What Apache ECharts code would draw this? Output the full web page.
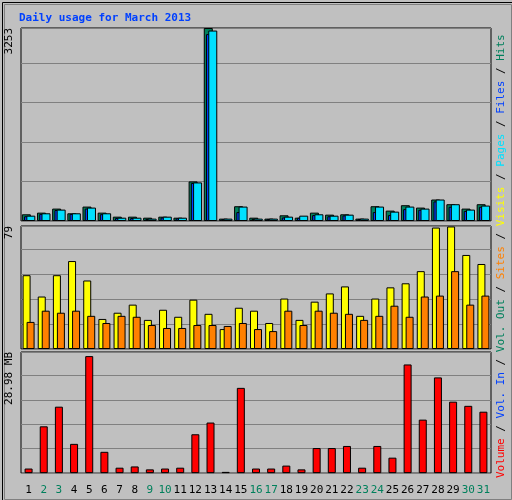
<!DOCTYPE html>
<html>
<head>
<script src="https://cdn.jsdelivr.net/npm/echarts@6/dist/echarts.min.js"></script>
<style>
  html, body { margin: 0; padding: 0; background: #c0c0c0; }
  #graph { width: 512px; height: 500px; }
</style>
</head>
<body>
<div id="graph"></div>
<script>
// data
const days = [];
for (let i = 1; i <= 31; i++) days.push(String(i));
const weekend = ['2', '3', '9', '10', '16', '17', '23', '24', '30', '31'];

const hits  = [113,141,209,130,243,141,73,73,56,73,56,667,3253,40,249,56,40,96,56,141,107,113,40,249,175,266,226,362,283,209,283];
const files = [80,120,185,120,210,115,50,50,35,60,45,640,3150,30,150,35,35,60,55,100,80,95,35,150,100,200,190,330,240,170,240];
const pages = [90,130,192,130,226,130,56,56,40,73,56,650,3210,40,243,40,40,73,90,113,90,107,40,243,158,243,209,362,283,192,260];

const visits = [47.4,33.7,47.4,56.5,44,19.3,23.3,28.5,18.7,25.2,20.7,31.7,22.6,12.8,26.5,24.6,16.7,32.4,18.7,30.4,35.7,40.2,21.3,32.4,39.6,42.2,50,78,78.7,60.4,54.6];
const sites  = [17.4,24.6,23.3,24.6,21.3,16.7,21.3,20.7,15.4,13.5,13.5,15.4,15.4,14.8,16.7,12.8,11.5,24.6,15.4,24.6,23.3,22.6,18.7,21.3,27.8,20.7,33.7,34.3,50,28.5,34.3];

const volume = [1.1,11.2,15.9,7.0,28.0,5.1,1.3,1.6,0.9,1.1,1.3,9.3,12.1,0.3,20.4,1.1,1.1,1.8,0.9,6.0,6.0,6.5,1.3,6.5,3.7,26.0,12.8,22.9,17.1,16.1,14.7];

const maxHits = 3253, maxVisits = 79, maxVol = 28.98;

const font = 'DejaVu Sans Mono';
const chart = echarts.init(document.getElementById('graph'));

const gridStyle = { show: true, backgroundColor: '#c0c0c0', borderColor: '#000', borderWidth: 1 };
const xBase = {
  type: 'category', data: days, boundaryGap: true,
  axisLine: { show: false }, axisTick: { show: false }, axisLabel: { show: false }
};
function yAxis(idx, max, interval) {
  return {
    gridIndex: idx, type: 'value', min: 0, max: max, interval: interval,
    axisLine: { show: false }, axisTick: { show: false }, axisLabel: { show: false },
    splitLine: { lineStyle: { color: '#808080', width: 1 } }
  };
}
const edge = { borderColor: '#000', borderWidth: 1 };

const option = {
  backgroundColor: '#c0c0c0',
  animation: false,
  textStyle: { fontFamily: font },
  grid: [
    Object.assign({ left: 21, right: 21, top: 28, height: 193 }, gridStyle),
    Object.assign({ left: 21, right: 21, top: 226, height: 123 }, gridStyle),
    Object.assign({ left: 21, right: 21, top: 352, height: 124 }, gridStyle)
  ],
  xAxis: [
    Object.assign({ gridIndex: 0 }, xBase),
    Object.assign({ gridIndex: 1 }, xBase),
    Object.assign({}, xBase, {
      gridIndex: 2,
      axisLabel: {
        show: true, interval: 0, margin: 7, fontFamily: font, fontSize: 11,
        formatter: v => weekend.includes(v) ? '{we|' + v + '}' : '{wd|' + v + '}',
        rich: { we: { color: '#00805c', fontFamily: font, fontSize: 11 }, wd: { color: '#000', fontFamily: font, fontSize: 11 } }
      }
    })
  ],
  yAxis: [yAxis(0, maxHits, 666), yAxis(1, maxVisits, 16), yAxis(2, maxVol, 5.85)],
  series: [
    { name: 'Hits', type: 'bar', xAxisIndex: 0, yAxisIndex: 0, data: hits, barWidth: 9, barGap: '-75%',
      itemStyle: Object.assign({ color: '#00805c' }, edge) },
    { name: 'Files', type: 'bar', xAxisIndex: 0, yAxisIndex: 0, data: files, barWidth: 9, barGap: '-75%',
      itemStyle: Object.assign({ color: '#0040ff' }, edge) },
    { name: 'Pages', type: 'bar', xAxisIndex: 0, yAxisIndex: 0, data: pages, barWidth: 9, barGap: '-75%',
      itemStyle: Object.assign({ color: '#00e0ff' }, edge) },
    { name: 'Visits', type: 'bar', xAxisIndex: 1, yAxisIndex: 1, data: visits, barWidth: 8, barGap: '-50%',
      itemStyle: Object.assign({ color: '#ffff00' }, edge) },
    { name: 'Sites', type: 'bar', xAxisIndex: 1, yAxisIndex: 1, data: sites, barWidth: 8, barGap: '-50%',
      itemStyle: Object.assign({ color: '#ff8000' }, edge) },
    { name: 'Volume', type: 'bar', xAxisIndex: 2, yAxisIndex: 2, data: volume, barWidth: 8,
      itemStyle: Object.assign({ color: '#ff0000' }, edge) }
  ],
  graphic: [
    { type: 'rect', left: 0, top: 0, shape: { width: 511, height: 499 }, silent: true,
      style: { fill: 'none', stroke: '#000', lineWidth: 1 } },
    { type: 'rect', left: 2, top: 2, shape: { width: 507, height: 495 }, silent: true,
      style: { fill: 'none', stroke: '#808080', lineWidth: 1 } },
    { type: 'text', left: 19, top: 8, style: { text: 'Daily usage for March 2013', fill: '#0040ff',
      font: 'bold 11px "' + font + '"' } },
    { type: 'text', x: 9, y: 28, rotation: Math.PI / 2, style: { text: String(maxHits), fill: '#000',
      font: '11px "' + font + '"', align: 'right', verticalAlign: 'middle' } },
    { type: 'text', x: 9, y: 226, rotation: Math.PI / 2, style: { text: String(maxVisits), fill: '#000',
      font: '11px "' + font + '"', align: 'right', verticalAlign: 'middle' } },
    { type: 'text', x: 9, y: 352, rotation: Math.PI / 2, style: { text: maxVol + ' MB', fill: '#000',
      font: '11px "' + font + '"', align: 'right', verticalAlign: 'middle' } },
    { type: 'text', x: 501, y: 478, rotation: Math.PI / 2, style: {
      text: '{r|Volume} / {b|Vol. In} / {g|Vol. Out} / {o|Sites} / {y|Visits} / {c|Pages} / {b|Files} / {g|Hits}',
      font: '11px "' + font + '"', fill: '#000', align: 'left', verticalAlign: 'middle',
      rich: {
        r: { fill: '#ff0000', font: '11px "' + font + '"' },
        b: { fill: '#0040ff', font: '11px "' + font + '"' },
        g: { fill: '#00805c', font: '11px "' + font + '"' },
        o: { fill: '#ff8000', font: '11px "' + font + '"' },
        y: { fill: '#ffff00', font: '11px "' + font + '"' },
        c: { fill: '#00e0ff', font: '11px "' + font + '"' }
      } } }
  ]
};
chart.setOption(option);
</script>
</body>
</html>
